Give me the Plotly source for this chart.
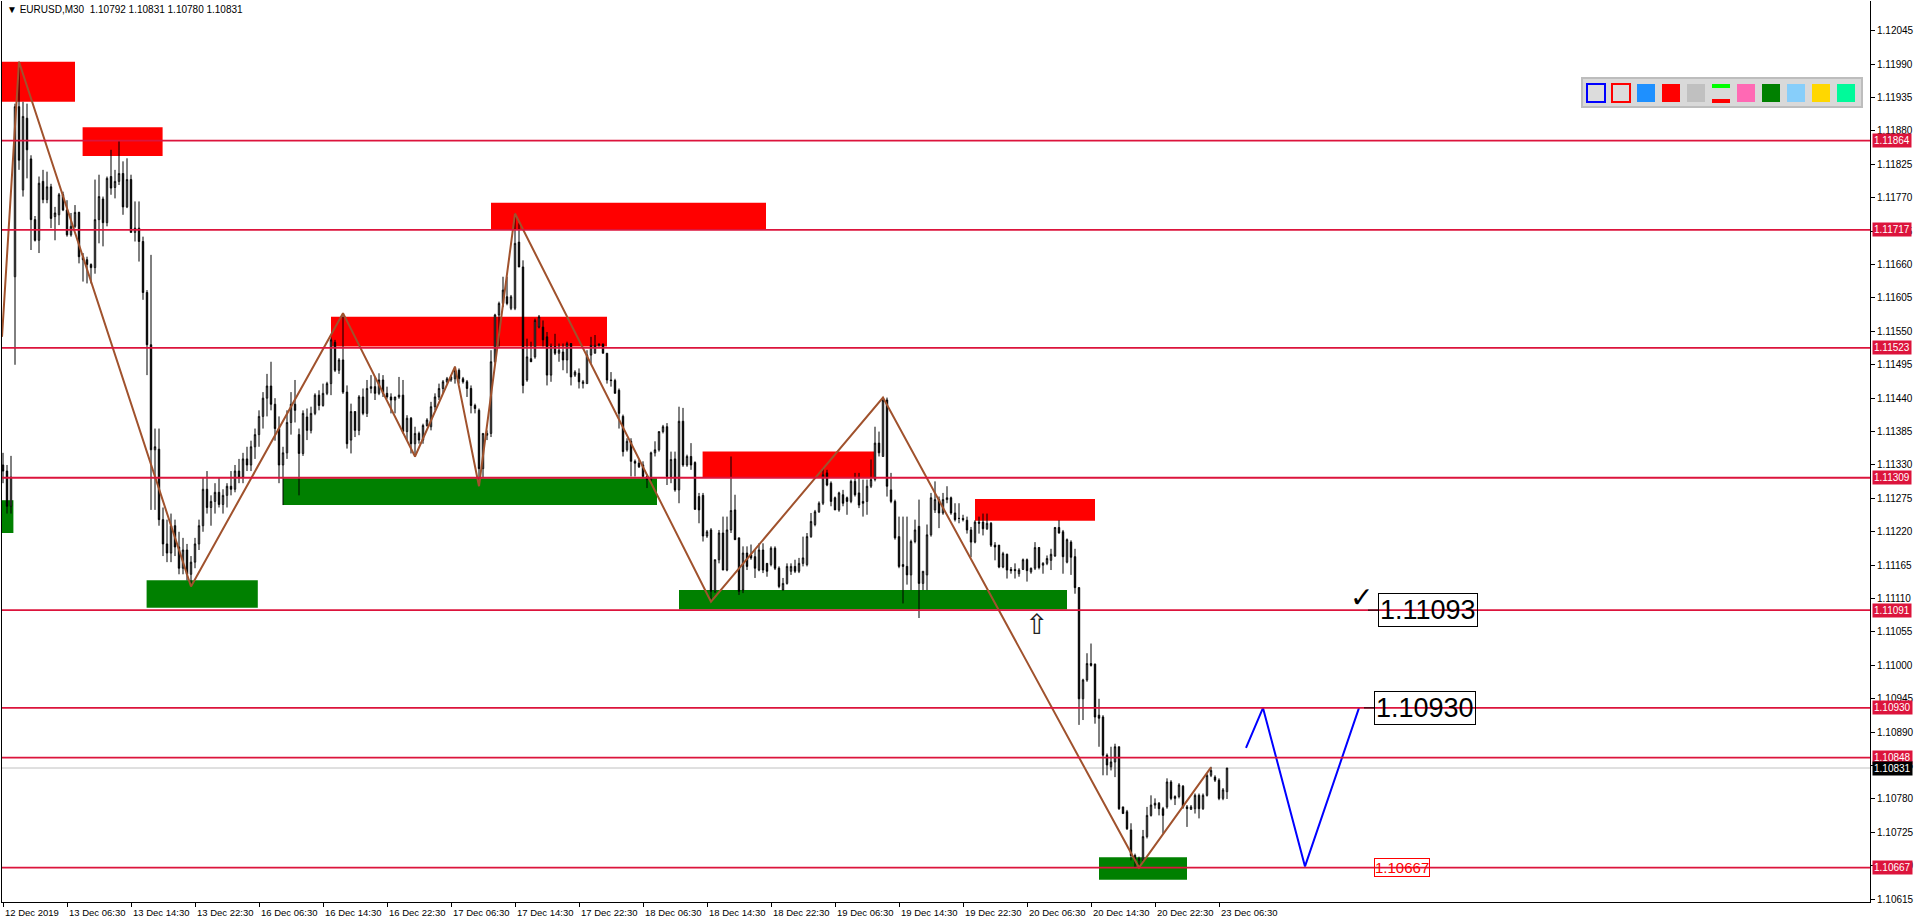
import plotly.graph_objects as go

# ---------------- data ----------------
opens = [
    1.11330, 1.11320, 1.11262, 1.11640, 1.11920, 1.11783, 1.11901, 1.11834, 1.11734, 1.11700,
    1.11797, 1.11767, 1.11788, 1.11739, 1.11742, 1.11775, 1.11750, 1.11709, 1.11723, 1.11746,
    1.11673, 1.11668, 1.11660, 1.11655, 1.11734, 1.11768, 1.11729, 1.11805, 1.11787, 1.11797,
    1.11810, 1.11755, 1.11800, 1.11713, 1.11720, 1.11698, 1.11614, 1.11528, 1.11355, 1.11356,
    1.11240, 1.11200, 1.11185, 1.11230, 1.11195, 1.11160, 1.11190, 1.11150, 1.11170, 1.11200,
    1.11230, 1.11290, 1.11260, 1.11270, 1.11285, 1.11265, 1.11280, 1.11295, 1.11290, 1.11320,
    1.11310, 1.11340, 1.11330, 1.11360, 1.11380, 1.11410, 1.11440, 1.11460, 1.11430, 1.11390,
    1.11330, 1.11350, 1.11400, 1.11430, 1.11380, 1.11349, 1.11409, 1.11387, 1.11415, 1.11445,
    1.11428, 1.11448, 1.11464, 1.11532, 1.11486, 1.11503, 1.11450, 1.11371, 1.11418, 1.11387,
    1.11442, 1.11415, 1.11456, 1.11459, 1.11448, 1.11470, 1.11448, 1.11442, 1.11437, 1.11442,
    1.11445, 1.11385, 1.11407, 1.11365, 1.11382, 1.11371, 1.11395, 1.11393, 1.11426, 1.11442,
    1.11456, 1.11467, 1.11470, 1.11472, 1.11486, 1.11472, 1.11467, 1.11456, 1.11428, 1.11420,
    1.11324, 1.11379, 1.11382, 1.11500, 1.11577, 1.11596, 1.11607, 1.11588, 1.11588, 1.11697,
    1.11656, 1.11470, 1.11505, 1.11508, 1.11557, 1.11557, 1.11541, 1.11478, 1.11525, 1.11514,
    1.11516, 1.11503, 1.11530, 1.11478, 1.11481, 1.11464, 1.11464, 1.11511, 1.11514, 1.11527,
    1.11529, 1.11514, 1.11470, 1.11469, 1.11453, 1.11410, 1.11355, 1.11369, 1.11336, 1.11333,
    1.11330, 1.11311, 1.11306, 1.11350, 1.11355, 1.11385, 1.11393, 1.11311, 1.11340, 1.11289,
    1.11402, 1.11330, 1.11344, 1.11334, 1.11278, 1.11280, 1.11213, 1.11223, 1.11122, 1.11174,
    1.11218, 1.11157, 1.11223, 1.11256, 1.11210, 1.11124, 1.11185, 1.11182, 1.11179, 1.11157,
    1.11190, 1.11168, 1.11166, 1.11193, 1.11160, 1.11124, 1.11135, 1.11155, 1.11163, 1.11155,
    1.11168, 1.11166, 1.11212, 1.11232, 1.11253, 1.11267, 1.11317, 1.11300, 1.11276, 1.11256,
    1.11281, 1.11276, 1.11270, 1.11303, 1.11284, 1.11270, 1.11270, 1.11295, 1.11306, 1.11366,
    1.11344, 1.11437, 1.11289, 1.11270, 1.11212, 1.11166, 1.11163, 1.11149, 1.11204, 1.11229,
    1.11135, 1.11149, 1.11215, 1.11256, 1.11273, 1.11251, 1.11273, 1.11276, 1.11251, 1.11242,
    1.11242, 1.11239, 1.11223, 1.11203, 1.11236, 1.11236, 1.11225, 1.11234, 1.11198, 1.11198,
    1.11162, 1.11183, 1.11158, 1.11158, 1.11151, 1.11158, 1.11174, 1.11154, 1.11160, 1.11194,
    1.11165, 1.11168, 1.11173, 1.11180, 1.11227, 1.11220, 1.11170, 1.11203, 1.11179, 1.11128,
    1.10945, 1.10976, 1.11003, 1.11002, 1.10918, 1.10915, 1.10852, 1.10833, 1.10841, 1.10866,
    1.10767, 1.10759, 1.10729, 1.10687, 1.10679, 1.10679, 1.10718, 1.10753, 1.10770, 1.10773,
    1.10764, 1.10767, 1.10808, 1.10781, 1.10784, 1.10801, 1.10767, 1.10763, 1.10764, 1.10786,
    1.10764, 1.10786, 1.10819, 1.10816, 1.10811, 1.10781, 1.10792,
]
highs = [
    1.11350, 1.11330, 1.11345, 1.11925, 1.11994, 1.11928, 1.11925, 1.11840, 1.11740, 1.11805,
    1.11816, 1.11813, 1.11793, 1.11755, 1.11778, 1.11780, 1.11766, 1.11745, 1.11758, 1.11747,
    1.11679, 1.11673, 1.11662, 1.11800, 1.11808, 1.11772, 1.11805, 1.11849, 1.11816, 1.11865,
    1.11830, 1.11835, 1.11808, 1.11764, 1.11764, 1.11706, 1.11618, 1.11676, 1.11390, 1.11390,
    1.11260, 1.11240, 1.11250, 1.11240, 1.11220, 1.11210, 1.11200, 1.11180, 1.11210, 1.11240,
    1.11310, 1.11320, 1.11280, 1.11300, 1.11310, 1.11290, 1.11300, 1.11320, 1.11330, 1.11340,
    1.11350, 1.11360, 1.11370, 1.11390, 1.11420, 1.11450, 1.11480, 1.11500, 1.11440, 1.11410,
    1.11360, 1.11420, 1.11450, 1.11470, 1.11390, 1.11420, 1.11423, 1.11426, 1.11448, 1.11453,
    1.11464, 1.11467, 1.11540, 1.11536, 1.11506, 1.11580, 1.11461, 1.11431, 1.11418, 1.11445,
    1.11456, 1.11470, 1.11478, 1.11475, 1.11481, 1.11478, 1.11459, 1.11448, 1.11442, 1.11475,
    1.11470, 1.11412, 1.11409, 1.11393, 1.11385, 1.11398, 1.11407, 1.11434, 1.11448, 1.11464,
    1.11470, 1.11475, 1.11478, 1.11492, 1.11489, 1.11475, 1.11470, 1.11461, 1.11431, 1.11423,
    1.11382, 1.11387, 1.11519, 1.11579, 1.11599, 1.11640, 1.11640, 1.11610, 1.11744, 1.11728,
    1.11667, 1.11538, 1.11533, 1.11571, 1.11577, 1.11568, 1.11549, 1.11530, 1.11546, 1.11530,
    1.11530, 1.11533, 1.11530, 1.11486, 1.11489, 1.11470, 1.11519, 1.11541, 1.11544, 1.11530,
    1.11530, 1.11514, 1.11483, 1.11472, 1.11456, 1.11413, 1.11374, 1.11374, 1.11339, 1.11339,
    1.11336, 1.11314, 1.11352, 1.11369, 1.11385, 1.11396, 1.11399, 1.11352, 1.11352, 1.11426,
    1.11424, 1.11347, 1.11366, 1.11336, 1.11284, 1.11284, 1.11223, 1.11226, 1.11174, 1.11223,
    1.11245, 1.11245, 1.11344, 1.11281, 1.11210, 1.11196, 1.11196, 1.11199, 1.11190, 1.11201,
    1.11201, 1.11168, 1.11196, 1.11196, 1.11163, 1.11144, 1.11168, 1.11168, 1.11174, 1.11177,
    1.11212, 1.11218, 1.11251, 1.11256, 1.11270, 1.11325, 1.11322, 1.11303, 1.11278, 1.11286,
    1.11289, 1.11278, 1.11306, 1.11317, 1.11317, 1.11306, 1.11306, 1.11339, 1.11393, 1.11385,
    1.11441, 1.11441, 1.11317, 1.11273, 1.11245, 1.11245, 1.11245, 1.11207, 1.11240, 1.11273,
    1.11155, 1.11232, 1.11284, 1.11303, 1.11278, 1.11284, 1.11295, 1.11278, 1.11267, 1.11267,
    1.11248, 1.11245, 1.11228, 1.11239, 1.11245, 1.11250, 1.11250, 1.11236, 1.11203, 1.11198,
    1.11187, 1.11184, 1.11162, 1.11168, 1.11160, 1.11176, 1.11176, 1.11161, 1.11203, 1.11195,
    1.11170, 1.11181, 1.11192, 1.11228, 1.11239, 1.11223, 1.11209, 1.11206, 1.11192, 1.11129,
    1.10978, 1.11020, 1.11036, 1.11003, 1.10945, 1.10918, 1.10855, 1.10866, 1.10871, 1.10866,
    1.10767, 1.10762, 1.10740, 1.10690, 1.10685, 1.10729, 1.10767, 1.10786, 1.10781, 1.10775,
    1.10767, 1.10814, 1.10811, 1.10786, 1.10806, 1.10803, 1.10770, 1.10770, 1.10789, 1.10789,
    1.10789, 1.10822, 1.10833, 1.10819, 1.10814, 1.10798, 1.10831,
]
lows = [
    1.11300, 1.11250, 1.11250, 1.11495, 1.11816, 1.11772, 1.11802, 1.11684, 1.11698, 1.11679,
    1.11761, 1.11761, 1.11720, 1.11700, 1.11725, 1.11748, 1.11706, 1.11706, 1.11720, 1.11662,
    1.11632, 1.11629, 1.11629, 1.11645, 1.11695, 1.11690, 1.11723, 1.11775, 1.11769, 1.11791,
    1.11742, 1.11753, 1.11713, 1.11698, 1.11665, 1.11602, 1.11478, 1.11256, 1.11256, 1.11230,
    1.11180, 1.11170, 1.11170, 1.11180, 1.11150, 1.11150, 1.11140, 1.11130, 1.11160, 1.11190,
    1.11220, 1.11250, 1.11230, 1.11250, 1.11260, 1.11250, 1.11260, 1.11280, 1.11285, 1.11300,
    1.11300, 1.11320, 1.11320, 1.11340, 1.11360, 1.11390, 1.11410, 1.11420, 1.11370, 1.11300,
    1.11264, 1.11340, 1.11380, 1.11400, 1.11280, 1.11345, 1.11371, 1.11382, 1.11412, 1.11420,
    1.11426, 1.11445, 1.11445, 1.11483, 1.11480, 1.11447, 1.11357, 1.11349, 1.11376, 1.11379,
    1.11412, 1.11409, 1.11448, 1.11437, 1.11445, 1.11442, 1.11439, 1.11415, 1.11415, 1.11439,
    1.11382, 1.11371, 1.11349, 1.11343, 1.11365, 1.11365, 1.11393, 1.11387, 1.11420, 1.11437,
    1.11448, 1.11464, 1.11467, 1.11464, 1.11464, 1.11464, 1.11442, 1.11415, 1.11415, 1.11297,
    1.11310, 1.11371, 1.11376, 1.11497, 1.11525, 1.11590, 1.11593, 1.11585, 1.11585, 1.11656,
    1.11448, 1.11467, 1.11500, 1.11505, 1.11555, 1.11525, 1.11461, 1.11467, 1.11511, 1.11500,
    1.11486, 1.11481, 1.11461, 1.11475, 1.11456, 1.11456, 1.11464, 1.11497, 1.11514, 1.11525,
    1.11514, 1.11464, 1.11459, 1.11448, 1.11390, 1.11344, 1.11352, 1.11311, 1.11311, 1.11325,
    1.11311, 1.11292, 1.11303, 1.11344, 1.11352, 1.11382, 1.11297, 1.11300, 1.11286, 1.11267,
    1.11327, 1.11327, 1.11322, 1.11256, 1.11234, 1.11204, 1.11210, 1.11105, 1.11119, 1.11168,
    1.11157, 1.11155, 1.11218, 1.11207, 1.11116, 1.11119, 1.11157, 1.11174, 1.11144, 1.11155,
    1.11152, 1.11146, 1.11163, 1.11157, 1.11127, 1.11124, 1.11133, 1.11149, 1.11152, 1.11152,
    1.11163, 1.11163, 1.11210, 1.11229, 1.11251, 1.11264, 1.11295, 1.11262, 1.11256, 1.11253,
    1.11262, 1.11248, 1.11267, 1.11278, 1.11259, 1.11245, 1.11248, 1.11292, 1.11303, 1.11344,
    1.11344, 1.11278, 1.11267, 1.11207, 1.11160, 1.11102, 1.11133, 1.11124, 1.11201, 1.11078,
    1.11124, 1.11124, 1.11212, 1.11251, 1.11226, 1.11248, 1.11267, 1.11248, 1.11237, 1.11234,
    1.11237, 1.11217, 1.11178, 1.11201, 1.11217, 1.11214, 1.11223, 1.11195, 1.11173, 1.11160,
    1.11160, 1.11143, 1.11151, 1.11143, 1.11146, 1.11157, 1.11138, 1.11151, 1.11157, 1.11158,
    1.11151, 1.11165, 1.11157, 1.11179, 1.11217, 1.11151, 1.11168, 1.11149, 1.11118, 1.10902,
    1.10910, 1.10973, 1.10998, 1.10904, 1.10866, 1.10819, 1.10819, 1.10827, 1.10816, 1.10762,
    1.10756, 1.10729, 1.10679, 1.10668, 1.10668, 1.10676, 1.10715, 1.10751, 1.10764, 1.10753,
    1.10723, 1.10764, 1.10778, 1.10770, 1.10781, 1.10764, 1.10734, 1.10762, 1.10756, 1.10748,
    1.10762, 1.10784, 1.10816, 1.10808, 1.10778, 1.10778, 1.10780,
]
closes = [
    1.11320, 1.11262, 1.11310, 1.11920, 1.11832, 1.11904, 1.11849, 1.11734, 1.11700, 1.11794,
    1.11767, 1.11788, 1.11736, 1.11745, 1.11775, 1.11750, 1.11709, 1.11723, 1.11746, 1.11673,
    1.11668, 1.11660, 1.11655, 1.11734, 1.11772, 1.11729, 1.11802, 1.11786, 1.11797, 1.11810,
    1.11755, 1.11800, 1.11713, 1.11720, 1.11698, 1.11614, 1.11528, 1.11355, 1.11360, 1.11240,
    1.11200, 1.11185, 1.11230, 1.11195, 1.11160, 1.11190, 1.11150, 1.11170, 1.11200, 1.11230,
    1.11290, 1.11260, 1.11270, 1.11285, 1.11265, 1.11280, 1.11295, 1.11290, 1.11320, 1.11310,
    1.11340, 1.11330, 1.11360, 1.11380, 1.11410, 1.11440, 1.11460, 1.11430, 1.11390, 1.11330,
    1.11350, 1.11400, 1.11430, 1.11420, 1.11349, 1.11415, 1.11387, 1.11415, 1.11445, 1.11428,
    1.11448, 1.11464, 1.11536, 1.11486, 1.11503, 1.11450, 1.11365, 1.11418, 1.11387, 1.11442,
    1.11415, 1.11456, 1.11459, 1.11448, 1.11470, 1.11448, 1.11442, 1.11437, 1.11442, 1.11445,
    1.11385, 1.11407, 1.11365, 1.11382, 1.11371, 1.11395, 1.11404, 1.11426, 1.11442, 1.11456,
    1.11467, 1.11472, 1.11475, 1.11486, 1.11472, 1.11467, 1.11456, 1.11428, 1.11423, 1.11324,
    1.11382, 1.11382, 1.11500, 1.11577, 1.11596, 1.11618, 1.11596, 1.11607, 1.11695, 1.11656,
    1.11461, 1.11508, 1.11500, 1.11568, 1.11574, 1.11536, 1.11478, 1.11525, 1.11514, 1.11519,
    1.11503, 1.11530, 1.11475, 1.11483, 1.11467, 1.11467, 1.11511, 1.11527, 1.11527, 1.11529,
    1.11514, 1.11470, 1.11469, 1.11448, 1.11415, 1.11352, 1.11369, 1.11336, 1.11333, 1.11327,
    1.11311, 1.11306, 1.11350, 1.11355, 1.11385, 1.11393, 1.11311, 1.11339, 1.11289, 1.11402,
    1.11330, 1.11344, 1.11330, 1.11257, 1.11256, 1.11213, 1.11220, 1.11122, 1.11174, 1.11218,
    1.11157, 1.11223, 1.11255, 1.11207, 1.11122, 1.11185, 1.11163, 1.11177, 1.11160, 1.11190,
    1.11157, 1.11155, 1.11193, 1.11160, 1.11130, 1.11135, 1.11163, 1.11163, 1.11155, 1.11168,
    1.11177, 1.11212, 1.11237, 1.11253, 1.11267, 1.11314, 1.11297, 1.11270, 1.11256, 1.11284,
    1.11267, 1.11270, 1.11303, 1.11281, 1.11264, 1.11267, 1.11295, 1.11306, 1.11366, 1.11350,
    1.11437, 1.11295, 1.11270, 1.11210, 1.11163, 1.11163, 1.11149, 1.11204, 1.11223, 1.11135,
    1.11155, 1.11215, 1.11276, 1.11273, 1.11251, 1.11273, 1.11276, 1.11251, 1.11240, 1.11242,
    1.11240, 1.11223, 1.11203, 1.11236, 1.11234, 1.11225, 1.11234, 1.11198, 1.11195, 1.11162,
    1.11184, 1.11157, 1.11156, 1.11156, 1.11157, 1.11174, 1.11156, 1.11160, 1.11194, 1.11161,
    1.11168, 1.11176, 1.11183, 1.11227, 1.11218, 1.11179, 1.11207, 1.11178, 1.11128, 1.10945,
    1.10976, 1.11003, 1.11000, 1.10915, 1.10913, 1.10852, 1.10836, 1.10841, 1.10866, 1.10764,
    1.10756, 1.10731, 1.10687, 1.10679, 1.10682, 1.10718, 1.10753, 1.10770, 1.10773, 1.10764,
    1.10753, 1.10808, 1.10781, 1.10784, 1.10803, 1.10767, 1.10764, 1.10767, 1.10786, 1.10764,
    1.10786, 1.10819, 1.10827, 1.10811, 1.10781, 1.10795, 1.10831,
]

level_prices = [1.11864, 1.11717, 1.11523, 1.11309, 1.11091, 1.10930, 1.10848, 1.10667]
last_price = 1.10831
title_text = "EURUSD,M30\u00a0\u00a01.10792 1.10831 1.10780 1.10831"

# supply (red) and demand (green) zones: bar range and price range
red_x0 = [-0.25, 19.9, 122.0, 82.0, 174.9, 243.0]
red_x1 = [18.0, 39.9, 190.75, 151.0, 217.75, 273.0]
red_lo = [1.11928, 1.11839, 1.11717, 1.11525, 1.11309, 1.11238]
red_hi = [1.11994, 1.11886, 1.11762, 1.11574, 1.11352, 1.11274]
green_x0 = [-0.25, 35.9, 70.0, 169.0, 274.0]
green_x1 = [2.6, 63.7, 163.5, 266.0, 296.0]
green_lo = [1.11218, 1.11095, 1.11264, 1.11092, 1.10647]
green_hi = [1.11272, 1.11140, 1.11308, 1.11124, 1.10684]

# zigzag swing points
zz_bar = [-0.25, 4, 47, 85, 103, 113, 119, 128, 177, 220, 284, 302]
zz_price = [1.11541, 1.11994, 1.11130, 1.11580, 1.11344, 1.11492, 1.11295, 1.11744,
            1.11105, 1.11441, 1.10667, 1.10832]

# blue projected path
proj_bar = [310.75, 315, 325.5, 339]
proj_price = [1.10864, 1.10930, 1.10669, 1.10930]

# price-label objects (text, bar of anchor, price)
label_text = ["1.11093", "1.10930", "1.10667"]
label_bar = [343.75, 342.75, 342.75]
label_price = [1.11091, 1.10930, 1.10667]

# time axis
date_tick_bars = [0, 16, 32, 48, 64, 80, 96, 112, 128, 144, 160, 176, 192, 208, 224, 240,
                  256, 272, 288, 304]
date_tick_text = ["12 Dec 2019", "13 Dec 06:30", "13 Dec 14:30", "13 Dec 22:30",
                  "16 Dec 06:30", "16 Dec 14:30", "16 Dec 22:30", "17 Dec 06:30",
                  "17 Dec 14:30", "17 Dec 22:30", "18 Dec 06:30", "18 Dec 14:30",
                  "18 Dec 22:30", "19 Dec 06:30", "19 Dec 14:30", "19 Dec 22:30",
                  "20 Dec 06:30", "20 Dec 14:30", "20 Dec 22:30", "23 Dec 06:30"]

price_ticks = [1.12045, 1.11990, 1.11935, 1.11880, 1.11825, 1.11770, 1.11715, 1.11660,
               1.11605, 1.11550, 1.11495, 1.11440, 1.11385, 1.11330, 1.11275, 1.11220,
               1.11165, 1.11110, 1.11055, 1.11000, 1.10945, 1.10890, 1.10835, 1.10780,
               1.10725, 1.10670, 1.10615]

toolbar_colors = ["outline_blue", "outline_red", "#1E90FF", "#FF0000", "#C0C0C0", "lines",
                  "#FF69B4", "#008000", "#87CEFA", "#FFD700", "#00FA9A"]

# ---------------- figure ----------------
W, H = 1916, 923
ML, MR, MT, MB = 2, 46, 1, 21
FONT = "Liberation Sans, Arial, sans-serif"
CRIMSON = "#DC143C"


def pxx(x):
    return (x - ML) / (W - ML - MR)


def pxy(y):
    return (H - MB - y) / (H - MT - MB)


bars = list(range(len(closes)))

fig = go.Figure()
fig.add_trace(go.Candlestick(
    x=bars, open=opens, high=highs, low=lows, close=closes,
    increasing=dict(line=dict(color="black", width=1), fillcolor="white"),
    decreasing=dict(line=dict(color="black", width=1), fillcolor="black"),
    whiskerwidth=0, hoverinfo="skip", showlegend=False,
))
fig.add_trace(go.Scatter(x=zz_bar, y=zz_price, mode="lines",
                         line=dict(color="#A0522D", width=2), hoverinfo="skip",
                         showlegend=False))
fig.add_trace(go.Scatter(x=proj_bar, y=proj_price, mode="lines",
                         line=dict(color="#0000FF", width=2), hoverinfo="skip",
                         showlegend=False))

shapes = []
for x0, x1, lo, hi in zip(red_x0, red_x1, red_lo, red_hi):
    shapes.append(dict(type="rect", xref="x", yref="y", x0=x0, x1=x1, y0=lo, y1=hi,
                       fillcolor="#FF0000", line=dict(width=0), layer="below"))
for x0, x1, lo, hi in zip(green_x0, green_x1, green_lo, green_hi):
    shapes.append(dict(type="rect", xref="x", yref="y", x0=x0, x1=x1, y0=lo, y1=hi,
                       fillcolor="#008000", line=dict(width=0), layer="below"))
shapes.append(dict(type="line", xref="paper", yref="y", x0=0, x1=1, y0=last_price,
                   y1=last_price, line=dict(color="#C0C0C0", width=1), layer="below"))
for lv in level_prices:
    shapes.append(dict(type="line", xref="paper", yref="y", x0=0, x1=1, y0=lv, y1=lv,
                       line=dict(color=CRIMSON, width=1.8), layer="above"))
# little anchor dashes of the two black price labels
for b, p in zip(label_bar[:2], label_price[:2]):
    shapes.append(dict(type="line", xref="x", yref="y", x0=b - 2.5, x1=b, y0=p, y1=p,
                       line=dict(color="black", width=1), layer="above"))

# toolbar panel (top right)
shapes.append(dict(type="rect", xref="paper", yref="paper", x0=pxx(1582), x1=pxx(1862),
                   y0=pxy(107), y1=pxy(78), fillcolor="#D9D9D9",
                   line=dict(color="#BDBDBD", width=2), layer="above"))
for k, c in enumerate(toolbar_colors):
    x0 = 1587 + 25 * k
    x1 = x0 + 18
    if c == "outline_blue" or c == "outline_red":
        col = "#0000FF" if c == "outline_blue" else "#FF0000"
        shapes.append(dict(type="rect", xref="paper", yref="paper", x0=pxx(x0), x1=pxx(x1),
                           y0=pxy(102), y1=pxy(84), fillcolor="#DCDCDC",
                           line=dict(color=col, width=2), layer="above"))
    elif c == "lines":
        shapes.append(dict(type="rect", xref="paper", yref="paper", x0=pxx(x0), x1=pxx(x1),
                           y0=pxy(88), y1=pxy(84), fillcolor="#00FF00",
                           line=dict(width=0), layer="above"))
        shapes.append(dict(type="rect", xref="paper", yref="paper", x0=pxx(x0), x1=pxx(x1),
                           y0=pxy(103), y1=pxy(99), fillcolor="#FF0000",
                           line=dict(width=0), layer="above"))
    else:
        shapes.append(dict(type="rect", xref="paper", yref="paper", x0=pxx(x0), x1=pxx(x1),
                           y0=pxy(102), y1=pxy(84), fillcolor=c,
                           line=dict(width=0), layer="above"))

annotations = []
# title
annotations.append(dict(xref="paper", yref="paper", x=0, y=1, xanchor="left", yanchor="top",
                        xshift=3, yshift=-1, showarrow=False,
                        text="\u25BC " + title_text,
                        font=dict(family=FONT, size=10, color="black")))
# date labels
for b, t in zip(date_tick_bars, date_tick_text):
    annotations.append(dict(xref="x", yref="paper", x=b, y=0, xanchor="left", yanchor="top",
                            xshift=0, yshift=-3, showarrow=False, text=t,
                            font=dict(family=FONT, size=9.5, color="black")))
# price level tags on the axis
for lv in level_prices:
    annotations.append(dict(xref="paper", yref="y", x=1, y=lv, xanchor="left",
                            yanchor="middle", xshift=2, showarrow=False,
                            text=f"{lv:.5f}", bgcolor=CRIMSON, borderpad=1,
                            font=dict(family=FONT, size=10, color="white")))
annotations.append(dict(xref="paper", yref="y", x=1, y=last_price, xanchor="left",
                        yanchor="middle", xshift=2, showarrow=False,
                        text=f"{last_price:.5f}", bgcolor="black", borderpad=1,
                        font=dict(family=FONT, size=10, color="white")))
# chart price labels
for k, (t, b, p) in enumerate(zip(label_text, label_bar, label_price)):
    if k < 2:
        annotations.append(dict(xref="x", yref="y", x=b, y=p, xanchor="left",
                                yanchor="middle", showarrow=False, text=t,
                                bordercolor="black", borderwidth=1, borderpad=1,
                                font=dict(family=FONT, size=27, color="black")))
    else:
        annotations.append(dict(xref="x", yref="y", x=b, y=p, xanchor="left",
                                yanchor="middle", showarrow=False, text=t,
                                bordercolor="#FF0000", borderwidth=1, borderpad=0,
                                font=dict(family=FONT, size=15, color="#FF0000")))
# check mark and arrow objects
annotations.append(dict(xref="x", yref="y", x=339.5, y=1.11112, xanchor="center",
                        yanchor="middle", showarrow=False, text="\u2713",
                        font=dict(family="DejaVu Sans", size=28, color="black")))
annotations.append(dict(xref="x", yref="y", x=258.25, y=1.11068, xanchor="center",
                        yanchor="middle", showarrow=False, text="\u21E7",
                        font=dict(family="DejaVu Sans", size=28, color="#222222")))

fig.update_layout(
    width=W, height=H,
    margin=dict(l=ML, r=MR, t=MT, b=MB, pad=0),
    paper_bgcolor="white", plot_bgcolor="white",
    showlegend=False,
    boxgap=0.5,
    shapes=shapes, annotations=annotations,
    xaxis=dict(range=[-0.25, 466.75], showgrid=False, zeroline=False,
               tickmode="array", tickvals=date_tick_bars, ticks="outside", ticklen=4,
               tickcolor="black", showticklabels=False, showline=True, linecolor="black",
               linewidth=1, rangeslider=dict(visible=False), fixedrange=True),
    yaxis=dict(range=[1.1061036, 1.1209405], side="right", showgrid=False, zeroline=False,
               tickmode="array", tickvals=price_ticks,
               ticktext=[f"{v:.5f}" for v in price_ticks], ticks="outside", ticklen=4,
               tickcolor="black", showline=True, linecolor="black", linewidth=1,
               mirror=True, tickfont=dict(family=FONT, size=10, color="black"),
               fixedrange=True),
    hovermode=False,
)

fig.write_html("out.html", config=dict(displayModeBar=False),
               post_script="document.body.style.margin='0';document.body.style.overflow='hidden';")
